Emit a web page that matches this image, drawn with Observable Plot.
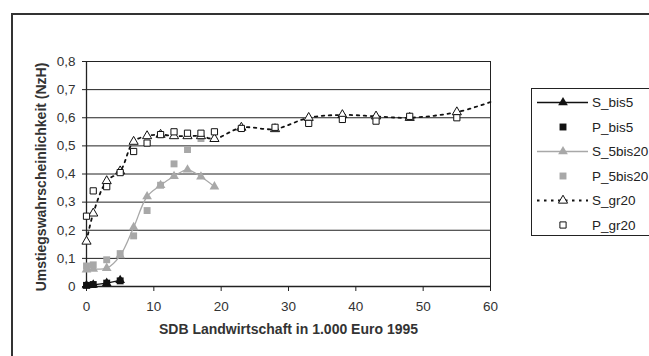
<!DOCTYPE html>
<html><head><meta charset="utf-8">
<script src="https://cdn.jsdelivr.net/npm/d3@7"></script>
<script src="https://cdn.jsdelivr.net/npm/@observablehq/plot@0.6"></script>
<style>
body{margin:0;background:#fff;}
#wrap{position:relative;width:649px;height:356px;overflow:hidden;font-family:"Liberation Sans",Arial,sans-serif;}
#frame{position:absolute;left:11px;top:13px;width:700px;height:400px;border-top:2px solid #333;border-left:2px solid #333;}
#wrap svg{position:absolute;left:0;top:0;}
</style></head><body><div id="wrap"><div id="frame"></div></div>
<script>
// ---- data ----
const xTicks = [0, 10, 20, 30, 40, 50, 60];
const yTicks = [0, 0.1, 0.2, 0.3, 0.4, 0.5, 0.6, 0.7, 0.8];

const bis5X = [0, 1, 3, 5];
const S_bis5 = [0.004, 0.006, 0.012, 0.022];
const P_bis5 = [0.004, 0.007, 0.012, 0.02];

const s5bis20X = [0, 1, 3, 5, 7, 9, 11, 13, 15, 17, 19];
const S_5bis20 = [0.06, 0.062, 0.065, 0.11, 0.21, 0.32, 0.36, 0.392, 0.415, 0.39, 0.355];
const p5bis20X = [0, 1, 3, 5, 7, 9, 11, 13, 15, 17];
const P_5bis20 = [0.073, 0.077, 0.095, 0.117, 0.18, 0.27, 0.36, 0.436, 0.487, 0.526];

const gr20X = [0, 1, 3, 5, 7, 9, 11, 13, 15, 17, 19, 23, 28, 33, 38, 43, 48, 55];
const S_gr20 = [0.16, 0.26, 0.375, 0.41, 0.515, 0.535, 0.54, 0.535, 0.535, 0.535, 0.525, 0.565, 0.56, 0.60, 0.61, 0.605, 0.6, 0.62];
const P_gr20 = [0.25, 0.34, 0.355, 0.405, 0.48, 0.51, 0.54, 0.55, 0.545, 0.545, 0.55, 0.562, 0.566, 0.58, 0.594, 0.588, 0.605, 0.60];
// where the dotted S_gr20 curve leaves the plot at the right edge
const gr20CurveEnd = {x: 60, y: 0.656};

const seriesNames = ["S_bis5", "P_bis5", "S_5bis20", "P_5bis20", "S_gr20", "P_gr20"];
const xTitle = "SDB Landwirtschaft in 1.000 Euro 1995";
const yTitle = "Umstiegswahrscheinlichkeit (NzH)";

// ---- tables ----
const zip = (xs, ys) => xs.map((x, i) => ({x, y: ys[i]}));
const sBis5 = zip(bis5X, S_bis5), pBis5 = zip(bis5X, P_bis5);
const s520 = zip(s5bis20X, S_5bis20), p520 = zip(p5bis20X, P_5bis20);
const sGr = zip(gr20X, S_gr20), pGr = zip(gr20X, P_gr20);
const sGrLine = [...sGr, gr20CurveEnd];

const INK = "#222", GRAY = "#a8a8a8", DASH = "2.5,4.5";
const fmtY = d => d === 0 ? "0" : d.toFixed(1).replace(".", ",");

const chart = Plot.plot({
  width: 649, height: 356,
  marginLeft: 86, marginRight: 159, marginTop: 61, marginBottom: 70,
  style: {fontFamily: "'Liberation Sans', Arial, sans-serif", fontSize: "13.5px", color: "#333", background: "transparent", overflow: "visible"},
  x: {domain: [0, 60]},
  y: {domain: [0, 0.8]},
  marks: [
    Plot.gridY(yTicks.filter(d => d > 0), {stroke: INK, strokeOpacity: 1, strokeWidth: 1}),
    Plot.ruleX([60], {stroke: INK}),
    Plot.axisX({ticks: xTicks, tickSize: 5, tickPadding: 10, label: null, stroke: INK, tickFormat: d => String(d)}),
    Plot.axisY({ticks: yTicks, tickSize: 4, tickPadding: 7, label: null, stroke: INK, tickFormat: fmtY}),
    Plot.ruleY([0], {stroke: INK, strokeWidth: 1.3}),
    Plot.ruleX([0], {stroke: INK, strokeWidth: 1.3}),
    // S_bis5
    Plot.line(sBis5, {x: "x", y: "y", stroke: "#111", strokeWidth: 1.3}),
    Plot.dot(sBis5, {x: "x", y: "y", symbol: "triangle", r: 3.6, fill: "#111"}),
    // P_bis5
    Plot.dot(pBis5, {x: "x", y: "y", symbol: "square", r: 3.9, fill: "#111"}),
    // S_5bis20
    Plot.line(s520, {x: "x", y: "y", stroke: GRAY, strokeWidth: 1.3, curve: "catmull-rom"}),
    Plot.dot(s520, {x: "x", y: "y", symbol: "triangle", r: 3.6, fill: GRAY}),
    // P_5bis20
    Plot.dot(p520, {x: "x", y: "y", symbol: "square", r: 3.9, fill: GRAY}),
    // S_gr20
    Plot.line(sGrLine, {x: "x", y: "y", stroke: "#111", strokeWidth: 1.8, strokeDasharray: DASH, curve: "catmull-rom"}),
    Plot.dot(sGr, {x: "x", y: "y", symbol: "triangle", r: 3.4, fill: "white", stroke: "#111", strokeWidth: 1}),
    // P_gr20
    Plot.dot(pGr, {x: "x", y: "y", symbol: "square", r: 3.5, fill: "white", stroke: "#111", strokeWidth: 1}),
    // titles
    Plot.text([xTitle], {text: d => d, frameAnchor: "bottom", dy: 47, fontWeight: "bold", fontSize: 14, fill: "#333"}),
    Plot.text([yTitle], {text: d => d, frameAnchor: "left", textAnchor: "middle", lineAnchor: "middle", dx: -45, dy: 3, rotate: -90, fontWeight: "bold", fontSize: 14, fill: "#333"})
  ]
});
document.getElementById("wrap").appendChild(chart);

// ---- legend ----
const svg = d3.select(chart);
const lg = svg.append("g").attr("font-family", "'Liberation Sans', Arial, sans-serif").attr("font-size", 13.5).attr("fill", "#222").attr("text-anchor", "start");
lg.append("rect").attr("x", 531.5).attr("y", 88.5).attr("width", 200).attr("height", 147).attr("fill", "white").attr("stroke", INK);
const legendItems = [
  {line: "#111", dash: null, sym: d3.symbolTriangle, r: 3.6, fill: "#111", stroke: "none"},
  {line: null, sym: d3.symbolSquare, r: 3.9, fill: "#111", stroke: "none"},
  {line: GRAY, dash: null, sym: d3.symbolTriangle, r: 3.6, fill: GRAY, stroke: "none"},
  {line: null, sym: d3.symbolSquare, r: 3.9, fill: GRAY, stroke: "none"},
  {line: "#111", dash: DASH, sym: d3.symbolTriangle, r: 3.4, fill: "white", stroke: "#111"},
  {line: null, sym: d3.symbolSquare, r: 3.5, fill: "white", stroke: "#111"}
];
legendItems.forEach((it, i) => {
  const y = 102.5 + i * 24.5;
  if (it.line) {
    lg.append("line").attr("x1", 537).attr("x2", 588).attr("y1", y).attr("y2", y)
      .attr("stroke", it.line).attr("stroke-width", it.dash ? 1.8 : 1.3).attr("stroke-dasharray", it.dash);
  }
  lg.append("path").attr("transform", `translate(563,${y})`)
    .attr("d", d3.symbol(it.sym, it.r * it.r * Math.PI)())
    .attr("fill", it.fill).attr("stroke", it.stroke);
  lg.append("text").attr("x", 592).attr("y", y).attr("dy", "0.35em").attr("text-anchor", "start").text(seriesNames[i]);
});
</script>
</body></html>
